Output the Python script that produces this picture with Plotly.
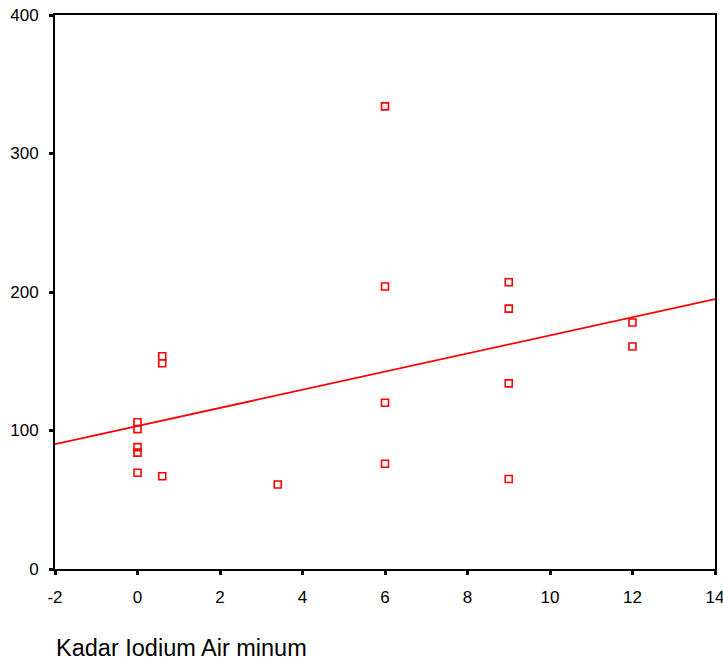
import numpy as np
import plotly.graph_objects as go

# Data
x_vals = [0, 0, 0, 0, 0,
          0.6, 0.6, 0.6,
          3.4,
          6, 6, 6, 6,
          9, 9, 9, 9,
          12, 12]
y_vals = [106, 101, 88, 84, 69.5,
          153.6, 148.6, 67,
          61,
          334, 204, 120, 76,
          207, 188, 134, 65,
          178, 160.6]

x_range = [-2, 14]
y_range = [0, 400]
x_ticks = [-2, 0, 2, 4, 6, 8, 10, 12, 14]
x_tick_labels = ["-2", "0", "2", "4", "6", "8", "10", "12", "14"]
y_ticks = [0, 100, 200, 300, 400]
y_tick_labels = ["0", "100", "200", "300", "400"]
x_title = "Kadar Iodium Air minum"

# Linear regression fit
slope, intercept = np.polyfit(np.array(x_vals, float), np.array(y_vals, float), 1)
x_line = np.array(x_range, float)
y_line = slope * x_line + intercept

RED = "#ff0000"
FONT = "Arial, 'Liberation Sans', sans-serif"

fig = go.Figure()
fig.add_trace(go.Scatter(
    x=x_line, y=y_line, mode="lines",
    line=dict(color=RED, width=1.8), hoverinfo="skip", showlegend=False))
fig.add_trace(go.Scatter(
    x=x_vals, y=y_vals, mode="markers",
    marker=dict(symbol="square-open", size=7, color=RED, line=dict(color=RED, width=1.6)),
    showlegend=False))

axis_common = dict(
    showgrid=False, zeroline=False, showline=True, linecolor="black", linewidth=2,
    mirror=True, ticks="outside", ticklen=4, tickwidth=3, tickcolor="black",
    automargin=False, ticklabeloverflow="allow",
    tickfont=dict(family=FONT, size=17, color="black"),
)

fig.update_xaxes(range=x_range, tickvals=x_ticks, ticktext=x_tick_labels,
                 ticklabelstandoff=8, **axis_common)
fig.update_yaxes(range=y_range, tickvals=y_ticks, ticktext=y_tick_labels,
                 ticklabelstandoff=7, **axis_common)

fig.add_annotation(
    text=x_title, xref="paper", yref="paper", x=0, y=-0.143,
    xanchor="left", yanchor="middle", xshift=-1, showarrow=False,
    font=dict(family=FONT, size=23.5, color="black"))

fig.update_layout(
    width=723, height=662,
    margin=dict(l=55, r=8, t=15, b=93),
    plot_bgcolor="white", paper_bgcolor="white",
    font=dict(family=FONT, color="black"),
)

fig.write_html("out.html")
